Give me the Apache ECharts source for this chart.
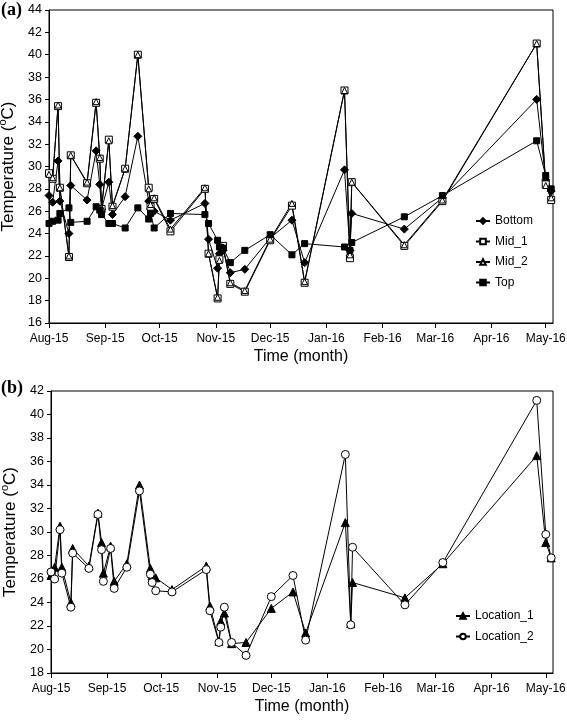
<!DOCTYPE html>
<html>
<head>
<meta charset="utf-8">
<script src="https://cdn.jsdelivr.net/npm/echarts@6/dist/echarts.min.js"></script>
<style>
html,body{margin:0;padding:0;background:#fff;}
#chart{width:567px;height:725px;}
</style>
</head>
<body>
<div id="chart"></div>
<script>
// ---- Data ----
const dates = ['2015-08-01','2015-08-03','2015-08-06','2015-08-07','2015-08-12','2015-08-13','2015-08-22','2015-08-27','2015-08-29','2015-08-30',
  '2015-09-03','2015-09-05','2015-09-12','2015-09-19','2015-09-25','2015-09-26','2015-09-28','2015-10-07','2015-10-26','2015-10-28',
  '2015-11-02','2015-11-03','2015-11-05','2015-11-09','2015-11-17','2015-12-01','2015-12-13','2015-12-20','2016-01-11','2016-01-14',
  '2016-01-15','2016-02-13','2016-03-05','2016-04-26','2016-05-01','2016-05-04'];

const bottomVals = [27.4,26.8,30.5,26.9,24.0,28.3,27.0,31.4,28.4,26.2,
  28.6,25.7,27.3,32.7,26.9,26.2,26.0,25.2,26.7,23.5,
  20.9,22.2,22.5,20.5,20.8,23.6,25.2,21.4,29.7,22.5,
  25.8,24.4,27.2,36.0,28.8,27.8];
const mid1Vals = [29.4,28.9,35.4,28.1,21.9,31.0,28.5,35.7,30.7,26.2,
  32.4,26.4,29.8,40.0,28.1,26.4,27.1,24.2,28.0,22.2,
  18.2,21.7,22.9,19.5,18.8,23.4,26.5,19.6,36.8,21.8,
  28.6,22.9,26.9,41.0,28.4,27.0];
const mid2Vals = [29.3,29.0,35.5,28.1,22.0,31.0,28.6,35.8,30.8,26.3,
  32.3,26.5,29.8,40.0,28.0,26.6,27.2,24.4,28.1,22.2,
  18.3,21.6,22.8,19.6,18.9,23.5,26.7,19.7,36.8,22.1,
  28.6,23.0,27.0,41.0,28.3,27.2];
const topVals = [24.9,25.1,25.2,25.8,26.3,25.0,25.1,26.4,26.1,25.7,
  24.9,24.9,24.5,26.3,25.3,25.8,24.5,25.8,25.7,24.9,
  23.4,22.8,22.7,21.4,22.5,23.9,22.1,23.1,22.8,22.5,
  23.2,25.5,27.4,32.3,29.2,28.0];
const loc1Vals = [26.3,27.0,30.5,27.0,24.0,28.6,27.1,31.6,29.1,26.5,
  28.8,25.8,27.3,34.0,26.9,26.3,26.1,25.1,27.1,23.7,
  20.7,22.4,23.1,20.5,20.6,23.5,24.9,21.4,30.8,22.2,
  25.7,24.4,27.3,36.5,29.1,27.8];
const loc2Vals = [26.6,26.0,30.2,26.5,23.6,28.2,26.9,31.5,28.5,25.8,
  28.6,25.2,27.0,33.5,26.4,25.7,25.0,24.9,26.8,23.3,
  20.6,21.9,23.6,20.6,19.5,24.5,26.3,20.8,36.6,22.1,
  28.7,23.8,27.4,41.2,29.8,27.8];

const monthTicks = ['2015-08-01','2015-09-01','2015-10-01','2015-11-01','2015-12-01','2016-01-01','2016-02-01','2016-03-01','2016-04-01','2016-05-01'];
const monthLabels = ['Aug-15','Sep-15','Oct-15','Nov-15','Dec-15','Jan-16','Feb-16','Mar-16','Apr-16','May-16'];
const xMin = '2015-08-01', xMax = '2016-05-05';

// ---- Build ----
const DAY = 86400000;
const toDay = s => Math.round((Date.UTC(+s.slice(0,4), +s.slice(5,7) - 1, +s.slice(8,10)) - Date.UTC(2015, 7, 1)) / DAY);
const tickDays = monthTicks.map(toDay);
const pairs = vals => dates.map((d, i) => [toDay(d), vals[i]]);
const FONT = 'Liberation Sans, Arial, sans-serif';

function xAxisOf(gridIndex) {
  return {
    type: 'value', gridIndex, min: toDay(xMin), max: toDay(xMax),
    name: 'Time (month)', nameLocation: 'middle', nameGap: 26,
    nameTextStyle: {fontFamily: FONT, fontSize: 16, color: '#000'},
    axisLine: {show: true, onZero: false, lineStyle: {color: '#000', width: 1}},
    axisTick: {show: true, length: 5, inside: false, customValues: tickDays, lineStyle: {color: '#000'}},
    axisLabel: {customValues: tickDays, fontFamily: FONT, fontSize: 12, color: '#000', margin: 10,
      formatter: v => { const i = tickDays.indexOf(v); return i >= 0 ? monthLabels[i] : ''; }},
    splitLine: {show: false}
  };
}
function yAxisOf(gridIndex, min, max) {
  return {
    type: 'value', gridIndex, min, max, interval: 2,
    name: '{t|Temperature (}{s|o}{t|C)}', nameLocation: 'middle', nameGap: 31, nameRotate: 90,
    nameTextStyle: {rich: {
      t: {fontFamily: FONT, fontSize: 17, color: '#000', lineHeight: 20, verticalAlign: 'bottom'},
      s: {fontFamily: FONT, fontSize: 11, color: '#000', lineHeight: 20, verticalAlign: 'top'}
    }},
    axisLine: {show: true, onZero: false, lineStyle: {color: '#000', width: 1}},
    axisTick: {show: true, length: 4, lineStyle: {color: '#000'}},
    axisLabel: {fontFamily: FONT, fontSize: 12.5, color: '#000', margin: 7},
    splitLine: {show: false}
  };
}
function ser(name, vals, gi, symbol, size, filled) {
  return {
    name, type: 'line', xAxisIndex: gi, yAxisIndex: gi, data: pairs(vals),
    symbol, symbolSize: size, showAllSymbol: true,
    lineStyle: {color: '#000', width: 1},
    itemStyle: filled ? {color: '#000', borderColor: '#000', borderWidth: 1}
                      : {color: '#fff', borderColor: '#000', borderWidth: 1},
    emphasis: {disabled: true}, animation: false
  };
}

const chart = echarts.init(document.getElementById('chart'), null, {renderer: 'canvas'});
chart.setOption({
  animation: false,
  backgroundColor: '#fff',
  grid: [
    {left: 49, top: 10, width: 504, height: 313, show: true, borderColor: '#000', borderWidth: 1, backgroundColor: 'transparent', outerBoundsMode: 'none', containLabel: false},
    {left: 51, top: 391, width: 502, height: 282, show: true, borderColor: '#000', borderWidth: 1, backgroundColor: 'transparent', outerBoundsMode: 'none', containLabel: false}
  ],
  xAxis: [xAxisOf(0), xAxisOf(1)],
  yAxis: [yAxisOf(0, 16, 44), yAxisOf(1, 18, 42)],
  legend: [
    {data: ['Bottom','Mid_1','Mid_2','Top'], orient: 'vertical', left: 470, top: 210, itemWidth: 14, itemHeight: 7, itemGap: 8.5,
     textStyle: {fontFamily: FONT, fontSize: 12, color: '#000'}, selectedMode: false},
    {data: ['Location_1','Location_2'], orient: 'vertical', left: 450, top: 605, itemWidth: 14, itemHeight: 7, itemGap: 8.5,
     textStyle: {fontFamily: FONT, fontSize: 12, color: '#000'}, selectedMode: false}
  ],
  graphic: [
    {type: 'text', left: 1, top: 1, style: {text: '(a)', font: 'bold 18px "Liberation Serif", "Times New Roman", serif', fill: '#000'}},
    {type: 'text', left: 1, top: 379, style: {text: '(b)', font: 'bold 18px "Liberation Serif", "Times New Roman", serif', fill: '#000'}}
  ],
  series: [
    ser('Bottom', bottomVals, 0, 'diamond', 8, true),
    ser('Mid_1', mid1Vals, 0, 'rect', 7, false),
    ser('Mid_2', mid2Vals, 0, 'triangle', 6, false),
    ser('Top', topVals, 0, 'rect', 6, true),
    ser('Location_1', loc1Vals, 1, 'triangle', 8, true),
    ser('Location_2', loc2Vals, 1, 'circle', 8, false)
  ]
});
</script>
</body>
</html>
